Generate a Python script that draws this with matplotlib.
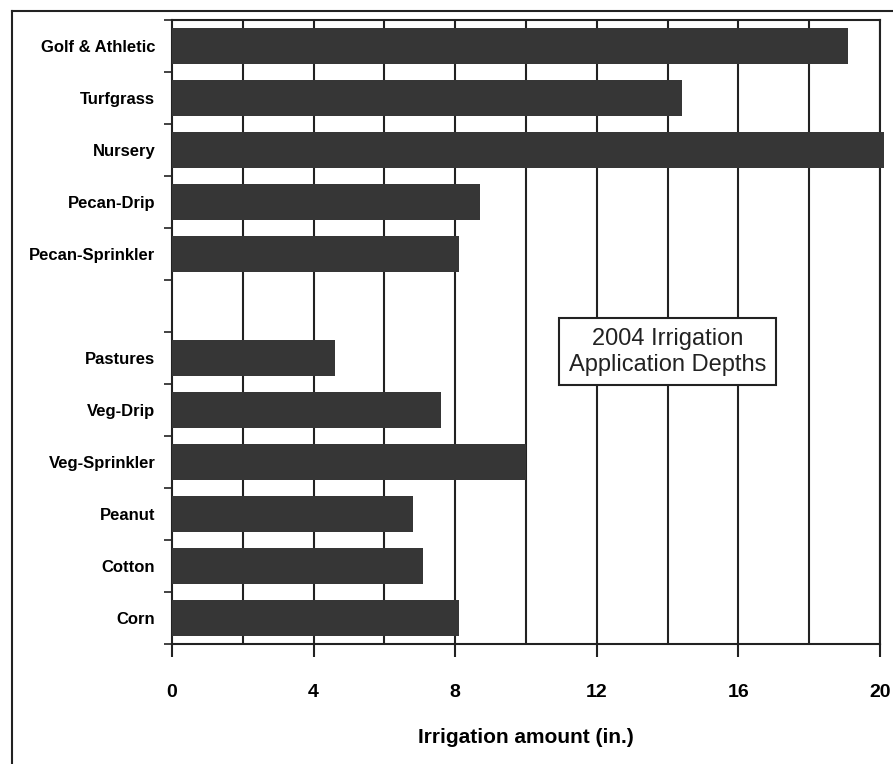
import matplotlib
matplotlib.use('Agg')
import matplotlib.pyplot as plt
from matplotlib.font_manager import findfont, FontProperties
from matplotlib.lines import Line2D
import numpy as np

# Categories from top to bottom ('' marks the empty slot)
categories = ['Golf & Athletic', 'Turfgrass', 'Nursery', 'Pecan-Drip', 'Pecan-Sprinkler', '',
              'Pastures', 'Veg-Drip', 'Veg-Sprinkler', 'Peanut', 'Cotton', 'Corn']
depths = [19.1, 14.4, 20.1, 8.7, 8.1, 0,
          4.6, 7.6, 10.0, 6.8, 7.1, 8.1]
tick_values = [0, 4, 8, 12, 16, 20]
grid_values = [2, 4, 6, 8, 10, 12, 14, 16, 18, 20]

# narrow bold font like the original, if available
narrow = 'Liberation Sans Narrow'
try:
    findfont(FontProperties(family=narrow), fallback_to_default=False)
except Exception:
    narrow = 'Liberation Sans'

fig = plt.figure(figsize=(8.93, 7.64), dpi=100)
ax = fig.add_axes([0.1926, 0.157, 0.7928, 0.8168])

y = np.arange(len(categories))
ax.barh(y, depths, height=0.7, color='#363636', zorder=3, clip_on=False)

for g in grid_values:
    ax.axvline(g, color='#222222', linewidth=1.5, zorder=1)

ax.set_xlim(0, 20)
ax.set_ylim(len(categories) - 0.5, -0.5)
ax.set_xticks(tick_values)
ax.set_xticklabels([str(t) for t in tick_values], fontfamily=narrow,
                   fontweight='bold', fontsize=14)
ax.tick_params(axis='x', length=9, width=1.5, pad=20, color='#222222')

ax.set_yticks(y)
ax.set_yticklabels(categories, fontfamily=narrow, fontweight='bold', fontsize=12)
ax.tick_params(axis='y', length=0, pad=12)
ax.set_yticks(np.arange(-0.5, len(categories), 1), minor=True)
ax.tick_params(axis='y', which='minor', length=6, width=1.2, color='#222222')

for s in ax.spines.values():
    s.set_linewidth(1.5)
    s.set_color('#222222')

ax.set_xlabel('Irrigation amount (in.)', fontfamily=narrow, fontweight='bold',
              fontsize=15, labelpad=19)

ax.text(14.0, 5.88, '2004 Irrigation\nApplication Depths', ha='center', va='center',
        fontsize=17, fontfamily='Liberation Sans', color='#222222', zorder=5,
        linespacing=1.25,
        bbox=dict(boxstyle='square,pad=0.4', facecolor='white', edgecolor='#222222',
                  linewidth=1.5))

# outer border lines (top and left)
fig.add_artist(Line2D([12 / 893, 1], [1 - 11 / 764, 1 - 11 / 764], transform=fig.transFigure,
                      color='#222222', linewidth=1.5))
fig.add_artist(Line2D([12 / 893, 12 / 893], [0, 1 - 11 / 764], transform=fig.transFigure,
                      color='#222222', linewidth=1.5))

fig.savefig('out.png', dpi=100)
